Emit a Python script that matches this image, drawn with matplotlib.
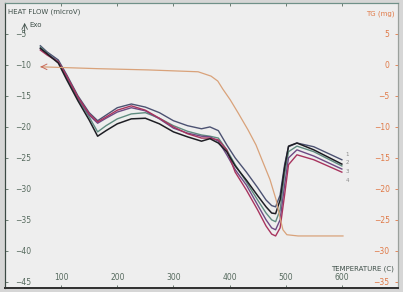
import matplotlib
matplotlib.use('Agg')
from matplotlib import pyplot as plt

# temperature grid (C) shared by the heat flow curves
temp = [63, 75, 95, 110, 130, 150, 165, 180, 200, 225, 250, 275, 300, 325, 350,
        365, 380, 395, 410, 430, 450, 465, 475, 482, 490, 498, 505, 520, 550, 600]

# heat flow (microV)
hf_navy = [-6.9, -7.9, -9.2, -11.6, -15.0, -17.7, -19.0, -18.1, -16.9, -16.3, -16.8, -17.7, -19.0, -19.8, -20.3,
           -20.0, -20.6, -22.9, -25.0, -27.3, -29.8, -31.8, -32.7, -32.9, -31.0, -26.1, -23.2, -22.6, -23.2, -25.3]
hf_black = [-7.3, -8.2, -9.7, -12.4, -15.8, -18.9, -21.5, -20.6, -19.5, -18.7, -18.6, -19.5, -20.8, -21.6, -22.3,
            -21.9, -22.6, -24.0, -26.3, -28.6, -31.1, -32.9, -33.9, -34.0, -31.8, -26.6, -23.1, -22.6, -23.7, -26.0]
hf_green = [-7.1, -8.1, -9.5, -12.1, -15.5, -18.4, -20.8, -19.8, -18.7, -17.9, -17.7, -18.6, -19.8, -20.7, -21.3,
            -21.5, -21.8, -23.7, -26.1, -28.9, -31.8, -33.9, -35.0, -35.3, -33.4, -27.7, -24.0, -23.1, -24.0, -26.3]
hf_purple = [-7.4, -8.2, -9.5, -11.9, -15.3, -18.1, -19.4, -18.6, -17.6, -16.9, -17.4, -18.7, -20.2, -21.0, -21.5,
             -21.6, -22.3, -24.5, -26.9, -29.4, -32.6, -35.0, -36.3, -36.6, -35.0, -29.4, -25.0, -23.7, -24.7, -26.8]
hf_red = [-7.6, -8.4, -9.5, -11.8, -15.2, -17.9, -19.2, -18.4, -17.3, -16.6, -17.3, -18.6, -20.0, -21.1, -21.8,
          -21.8, -22.1, -23.7, -27.3, -30.2, -33.4, -36.0, -37.3, -37.6, -36.3, -31.0, -26.1, -24.5, -25.3, -27.3]

# thermogravimetric curve (mg)
tg_temp = [64, 166, 255, 344, 367, 379, 388, 401, 415, 433, 447, 459, 472, 483, 490, 495, 502, 522, 602]
tg_mass = [-0.3, -0.6, -0.8, -1.1, -1.8, -2.6, -3.9, -5.6, -7.7, -10.5, -12.9, -15.6, -18.5, -21.8,
           -24.7, -26.6, -27.4, -27.6, -27.6]

end_labels = ['1', '2', '3', '4']
end_label_hf = [-24.5, -25.8, -27.2, -28.6]

x_ticks = [100, 200, 300, 400, 500, 600]
hf_ticks = [-5, -10, -15, -20, -25, -30, -35, -40, -45]
tg_ticks = [5, 0, -5, -10, -15, -20, -25, -30, -35]

fig = plt.figure(figsize=(4.03, 2.92), dpi=100, facecolor='#d6d6d6')
ax = fig.add_axes([0.0124, 0.0137, 0.9752, 0.976])
ax.set_facecolor('#eeeeee')

ax.plot(temp, hf_navy, color='#4c5272', lw=1.0)
ax.plot(temp, hf_green, color='#5f8c80', lw=1.0)
ax.plot(temp, hf_purple, color='#6e4a84', lw=1.0)
ax.plot(temp, hf_red, color='#a8345e', lw=1.0)
ax.plot(temp, hf_black, color='#1e1e24', lw=1.1)

for lab, v in zip(end_labels, end_label_hf):
    ax.text(607, v, lab, fontsize=4, color='#8a8a8a', va='center')

ax.set_xlim(0, 700)
ax.set_ylim(-46, 0)
ax.set_xticks(x_ticks)
ax.set_yticks(hf_ticks)
ax.tick_params(axis='both', direction='in', length=2, width=0.6, colors='#566a5e', labelsize=5.5)
ax.tick_params(axis='y', pad=-7)
ax.tick_params(axis='x', pad=-4.5, top=True)
for lab in ax.get_yticklabels():
    lab.set_horizontalalignment('left')
for lab in ax.get_xticklabels():
    lab.set_verticalalignment('bottom')

ax2 = ax.twinx()
ax2.plot(tg_temp, tg_mass, color='#d9a27a', lw=0.9)
ax2.annotate('', xy=(58, tg_mass[0]), xytext=(72, tg_mass[0]),
             arrowprops=dict(arrowstyle='->', color='#c86a5a', lw=0.7))
ax2.set_ylim(-36, 10)
ax2.set_yticks(tg_ticks)
ax2.tick_params(axis='y', direction='in', length=2, width=0.6, colors='#e07a48', labelsize=5.5, pad=-6)
for lab in ax2.get_yticklabels():
    lab.set_horizontalalignment('right')

for a in (ax, ax2):
    a.spines['left'].set_color('#3c4a44')
    a.spines['top'].set_color('#6f9088')
    a.spines['bottom'].set_color('#333333')
    a.spines['right'].set_color('#9aa09c')
    a.spines['bottom'].set_linewidth(1.4)

ax.text(0.008, 0.98, 'HEAT FLOW (microV)', transform=ax.transAxes, fontsize=5,
        color='#40504a', va='top', ha='left')
ax.annotate('', xy=(0.05, 0.94), xytext=(0.05, 0.885), xycoords='axes fraction',
            arrowprops=dict(arrowstyle='->', color='#40504a', lw=0.6))
ax.text(0.062, 0.935, 'Exo', transform=ax.transAxes, fontsize=5, color='#40504a', va='top')
ax.text(0.992, 0.975, 'TG (mg)', transform=ax.transAxes, fontsize=5,
        color='#e07a48', va='top', ha='right')
ax.text(0.99, 0.055, 'TEMPERATURE (C)', transform=ax.transAxes, fontsize=5,
        color='#40504a', va='bottom', ha='right')

fig.savefig('out.png', dpi=100, facecolor=fig.get_facecolor())
